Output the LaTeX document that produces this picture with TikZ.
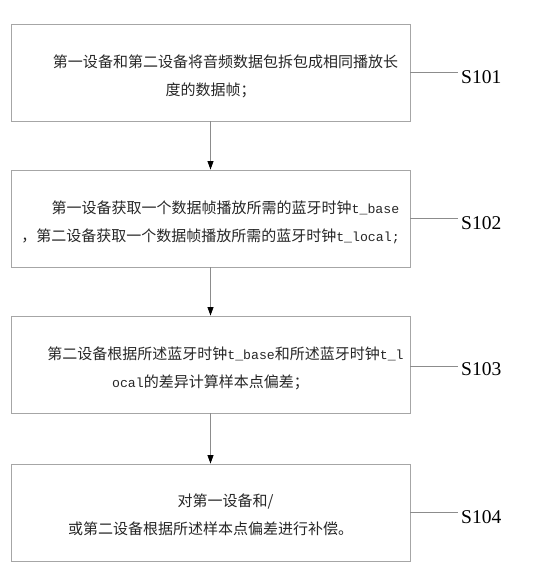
\documentclass[tikz,border=0pt]{standalone}
\usepackage{fontspec}
\setmainfont{Liberation Serif}
\newfontfamily\cjk{Noto Sans CJK SC}
\newfontfamily\lmono{Liberation Mono}
\usetikzlibrary{arrows.meta}
\definecolor{boxgray}{HTML}{A6A6A6}
\definecolor{linegray}{HTML}{8C8C8C}
\newcommand\tcode[1]{{\lmono\fontsize{13.2}{28}\selectfont #1}}
\begin{document}
\begin{tikzpicture}[x=1pt,y=-1pt,
  stepbox/.style={draw=boxgray, line width=0.9pt, minimum width=399pt, minimum height=97pt, inner sep=0pt},
  txt/.style={align=center, inner sep=0pt, text=black!85, font=\cjk\fontsize{15}{28}\selectfont},
  lab/.style={font=\fontsize{19.5}{20}\selectfont, anchor=west, inner sep=0pt},
  conn/.style={draw=linegray, line width=0.8pt},
  flow/.style={conn, -{Triangle[length=8.5pt,width=6pt,color=black]}}]
\useasboundingbox (0,0) rectangle (554,573);

\node[stepbox] (b1) at (210.5,72.5) {};
\node[stepbox] (b2) at (210.5,218.5) {};
\node[stepbox] (b3) at (210.5,364.5) {};
\node[stepbox] (b4) at (210.5,512.5) {};

\node[txt] (t1) at (210.5,76) {\hspace*{2em}第一设备和第二设备将音频数据包拆包成相同播放长\\度的数据帧；};
\node[txt] (t2) at (210.5,222) {\hspace*{2em}第一设备获取一个数据帧播放所需的蓝牙时钟\tcode{t\_base}\\，第二设备获取一个数据帧播放所需的蓝牙时钟\tcode{t\_local;}};
\node[txt] (t3) at (210.5,368) {\hspace*{2em}第二设备根据所述蓝牙时钟\tcode{t\_base}和所述蓝牙时钟\tcode{t\_l}\\\tcode{ocal}的差异计算样本点偏差；};
\node[txt] (t4) at (210.5,515) {\hspace*{2em}对第一设备和/\\或第二设备根据所述样本点偏差进行补偿。};

\draw[flow] (b1.south) -- (b2.north);
\draw[flow] (b2.south) -- (b3.north);
\draw[flow] (b3.south) -- (b4.north);

\coordinate (c1) at (458,72.5);
\coordinate (c2) at (458,218.5);
\coordinate (c3) at (458,366);
\coordinate (c4) at (458,512.5);
\node[lab] (L1) at (461,77) {S101};
\node[lab] (L2) at (461,223) {S102};
\node[lab] (L3) at (461,369) {S103};
\node[lab] (L4) at (461,517) {S104};
\draw[conn] (b1.east) -- (c1);
\draw[conn] (b2.east) -- (c2);
\draw[conn] (b3.east |- c3) -- (c3);
\draw[conn] (b4.east) -- (c4);
\end{tikzpicture}
\end{document}
